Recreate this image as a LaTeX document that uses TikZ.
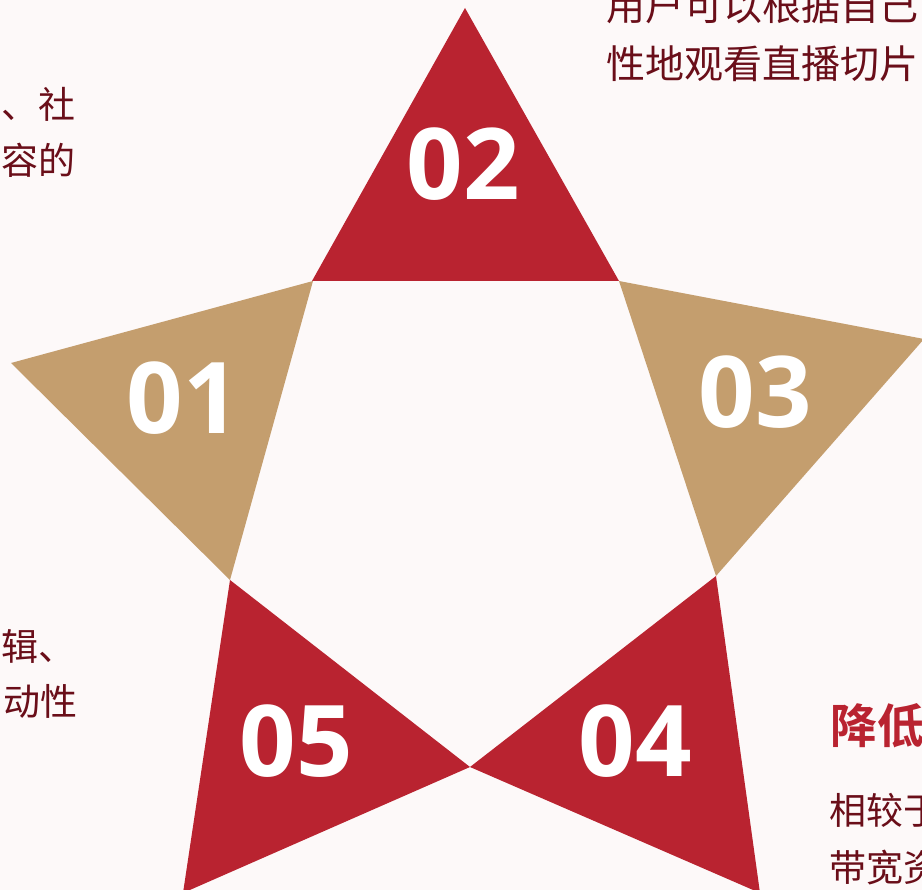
\documentclass[tikz,border=0pt]{standalone}
\usepackage{fontspec}
\newfontfamily\cjk[BoldFont={Noto Sans CJK SC Bold}]{Noto Sans CJK SC}
\newfontfamily\numfont[BoldFont={Open Sans Bold}]{Open Sans}
\definecolor{bg}{HTML}{FDF9F9}
\definecolor{starred}{HTML}{B92330}
\definecolor{startan}{HTML}{C49E6E}
\definecolor{txt}{HTML}{6A0E19}
\tikzset{
  num/.style={text=white, font=\numfont\bfseries\fontsize{99}{99}\selectfont, inner sep=0pt},
  body/.style={text=txt, font=\cjk\fontsize{37}{37}\selectfont, inner sep=0pt},
  bodybig/.style={text=txt, font=\cjk\fontsize{39}{39}\selectfont, inner sep=0pt},
  headline/.style={text=starred, font=\cjk\bfseries\fontsize{47}{47}\selectfont, inner sep=0pt}
}
\begin{document}
\begin{tikzpicture}[x=1pt,y=-1pt]
\fill[bg] (0,0) rectangle (922,890);
\useasboundingbox (0,0) rectangle (922,890);
\clip (0,0) rectangle (922,890);
% star points
\fill[starred] (465,8) -- (312,281) -- (619,281) -- cycle;
\fill[startan] (11,363) -- (313,281) -- (230,580) -- cycle;
\fill[startan] (619,281) -- (924,339) -- (716,576) -- cycle;
\fill[starred] (716,576) -- (760,893) -- (470,767) -- cycle;
\fill[starred] (230,580) -- (470,767) -- (183,893) -- cycle;
% numbers
\node[num] (n01) at (183.5,398) {01};
\node[num] (n02) at (463.5,164) {02};
\node[num] (n03) at (755,392.5) {03};
\node[num] (n04) at (635,741) {04};
\node[num] (n05) at (296.5,741) {05};
% texts
\node[bodybig, anchor=base west] (t1a) at (606,21) {用户可以根据自己};
\node[bodybig, anchor=base west] (t1b) at (606,79) {性地观看直播切片};
\node[body, anchor=base east] (t2a) at (76,119) {、社};
\node[body, anchor=base east] (t2b) at (76,174.5) {容的};
\node[body, anchor=base east] (t3a) at (76,660) {辑、};
\node[body, anchor=base east] (t3b) at (78,715) {动性};
\node[headline, anchor=base west] (h4) at (830,743) {降低};
\node[body, anchor=base west] (t4a) at (829,824.5) {相较于};
\node[body, anchor=base west] (t4b) at (829,881) {带宽资};
\end{tikzpicture}
\end{document}
